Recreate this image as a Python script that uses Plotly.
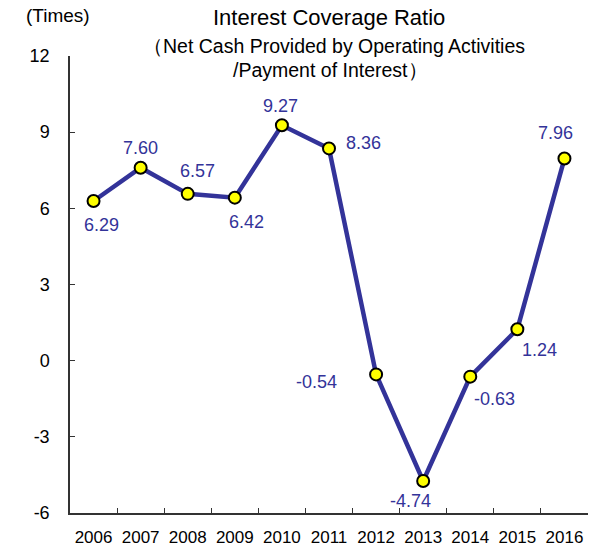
import plotly.graph_objects as go

years = ["2006", "2007", "2008", "2009", "2010", "2011", "2012", "2013", "2014", "2015", "2016"]
ratio = [6.29, 7.60, 6.57, 6.42, 9.27, 8.36, -0.54, -4.74, -0.63, 1.24, 7.96]
y_ticks = [12, 9, 6, 3, 0, -3, -6]

# label offsets in pixels (style only)
lbl_dx = [8, 0, 10, 12, -1, 34, -60, -13, 24, 22, -9]
lbl_dy = [24, -20, -23, 24, -19, -5, 8, 20, 22, 21, -26]

FONT = "Liberation Sans, Arial, sans-serif"
LINE = "#333399"

fig = go.Figure()
fig.add_trace(go.Scatter(
    x=years, y=ratio, mode="lines+markers",
    line=dict(color=LINE, width=4.5),
    marker=dict(size=12, color="#FFFF00", line=dict(color="black", width=2)),
    hoverinfo="x+y", showlegend=False,
))

for i, (y, dx, dy) in enumerate(zip(ratio, lbl_dx, lbl_dy)):
    fig.add_annotation(x=i, y=y, xref="x", yref="y", text=f"{y:.2f}", showarrow=False,
                       xanchor="center", yanchor="middle",
                       xshift=dx, yshift=-dy,
                       font=dict(family=FONT, size=18, color=LINE))

def head(text, size, xpos, xshift, yshift):
    fig.add_annotation(xref="paper", yref="paper", x=xpos, y=1,
                       xanchor="center", yanchor="middle",
                       xshift=xshift, yshift=yshift, text=text, showarrow=False,
                       font=dict(family=FONT, size=size, color="black"))

head("Interest Coverage Ratio", 22, 0.5, 0, 39)
head("（Net Cash Provided by Operating Activities", 19.5, 0.5, 5, 10)
head("/Payment of Interest）", 19.5, 0.5, 1, -14)
head("(Times)", 19, 0, -12, 41)

fig.update_layout(
    width=590, height=550,
    margin=dict(l=70, r=2, t=56, b=37),
    plot_bgcolor="white", paper_bgcolor="white",
    font=dict(family=FONT, size=17, color="black"),
    xaxis=dict(type="category", range=[-0.5, 10.5], tickson="boundaries",
               ticks="inside", ticklen=5, tickcolor="#333", showline=True,
               linecolor="#333", linewidth=1.5, showgrid=False,
               ticklabelstandoff=8, tickfont=dict(family=FONT, size=17)),
    yaxis=dict(range=[-6, 12], tickvals=y_ticks, ticktext=[str(v) for v in y_ticks],
               ticks="inside", ticklen=5, tickcolor="#333", showline=True,
               linecolor="#333", linewidth=1.5, showgrid=False, zeroline=False,
               ticklabelstandoff=15, tickfont=dict(family=FONT, size=18)),
)

fig.write_html("out.html", config={"displayModeBar": False},
               post_script="document.body.style.margin='0';")
